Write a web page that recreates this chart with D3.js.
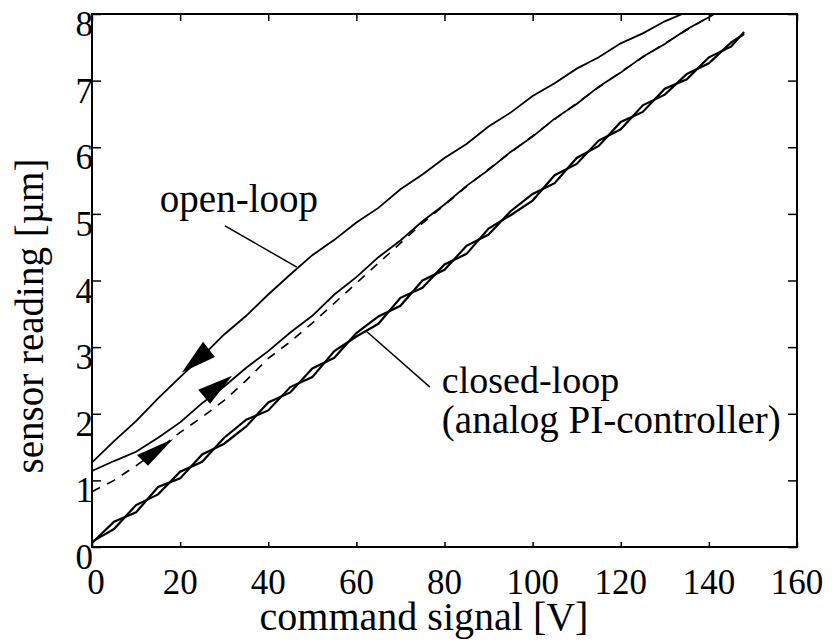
<!DOCTYPE html>
<html>
<head>
<meta charset="utf-8">
<script src="https://cdn.jsdelivr.net/npm/d3@7"></script>
<style>
  html, body { margin: 0; padding: 0; background: #fff; }
</style>
</head>
<body>
<div id="chart"></div>
<script>
// command signal [V] sample points
const voltSteps = [0, 5, 10, 15, 20, 25, 30, 35, 40, 45, 50, 55, 60, 65, 70, 75, 80, 85, 90, 95, 100, 105, 110, 115, 120, 125, 130, 135, 140, 145, 148];

// open-loop, descending branch (upper curve)
const openDown = [1.27, 1.59, 1.89, 2.23, 2.55, 2.86, 3.19, 3.47, 3.79, 4.09, 4.38, 4.61, 4.87, 5.09, 5.37, 5.59, 5.84, 6.05, 6.31, 6.52, 6.77, 6.96, 7.18, 7.35, 7.56, 7.71, 7.89, 8.03, 8.18, 8.32, 8.40];
// open-loop, ascending branch (measured, solid)
const openUp = [1.14, 1.29, 1.43, 1.64, 1.87, 2.16, 2.41, 2.69, 2.94, 3.22, 3.47, 3.79, 4.05, 4.35, 4.60, 4.89, 5.14, 5.42, 5.66, 5.93, 6.16, 6.43, 6.65, 6.91, 7.12, 7.36, 7.55, 7.77, 7.95, 8.16, 8.25];
// open-loop, ascending branch (dashed)
const openUpDashed = [0.83, 1.00, 1.22, 1.46, 1.72, 1.95, 2.20, 2.50, 2.83, 3.08, 3.36, 3.66, 3.96, 4.26, 4.56, 4.86, 5.13, 5.41, 5.67, 5.92, 6.17, 6.42, 6.66, 6.90, 7.13, 7.35, 7.56, 7.76, 7.96, 8.15, 8.25];
// closed-loop (analog PI-controller), two overlapping traces
const closedUp = [0.08, 0.27, 0.63, 0.79, 1.13, 1.28, 1.64, 1.91, 2.05, 2.40, 2.55, 2.94, 3.16, 3.35, 3.74, 3.89, 4.24, 4.40, 4.78, 4.98, 5.20, 5.58, 5.75, 6.10, 6.27, 6.63, 6.79, 7.10, 7.26, 7.57, 7.70];
const closedDown = [0.06, 0.38, 0.52, 0.90, 1.03, 1.39, 1.55, 1.81, 2.17, 2.32, 2.68, 2.84, 3.21, 3.46, 3.62, 4.00, 4.16, 4.52, 4.69, 5.04, 5.30, 5.46, 5.84, 6.02, 6.38, 6.53, 6.88, 7.02, 7.35, 7.51, 7.73];

const xTicks = [0, 20, 40, 60, 80, 100, 120, 140, 160];
const yTicks = [0, 1, 2, 3, 4, 5, 6, 7, 8];

// direction arrows [V, µm] : tip, base corner, base corner
const arrows = [
    [[20.4, 2.62], [25.2, 3.08], [27.9, 2.85]],
    [[31.8, 2.57], [24.1, 2.36], [26.8, 2.15]],
    [[18.4, 1.62], [10.2, 1.38], [12.7, 1.22]]
];

const W = 833, H = 644;
const margin = { top: 14, right: 36, bottom: 97, left: 92 };
const FONT = '"Liberation Serif", "DejaVu Serif", "Times New Roman", Times, serif';

const svg = d3.select('#chart').append('svg')
    .attr('width', W)
    .attr('height', H)
    .attr('font-family', FONT);

const x = d3.scaleLinear().domain([0, 160]).range([margin.left, W - margin.right]);
const y = d3.scaleLinear().domain([0, 8]).range([H - margin.bottom, margin.top]);

svg.append('clipPath').attr('id', 'plot-clip')
    .append('rect')
    .attr('x', x(0)).attr('y', y(8))
    .attr('width', x(160) - x(0)).attr('height', y(0) - y(8));

const plot = svg.append('g').attr('clip-path', 'url(#plot-clip)');

const line = vals => d3.line()
    .x((d, i) => x(voltSteps[i]))
    .y(d => y(d))(vals);

// closed-loop traces
[closedUp, closedDown].forEach(vals => {
    plot.append('path')
        .attr('d', line(vals))
        .attr('fill', 'none')
        .attr('stroke', '#000')
        .attr('stroke-width', 2.2);
});

// open-loop traces
plot.append('path')
    .attr('d', line(openUpDashed))
    .attr('fill', 'none')
    .attr('stroke', '#000')
    .attr('stroke-width', 1.6)
    .attr('stroke-dasharray', '9,8');

[openDown, openUp].forEach(vals => {
    plot.append('path')
        .attr('d', line(vals))
        .attr('fill', 'none')
        .attr('stroke', '#000')
        .attr('stroke-width', 1.8);
});

// arrows
plot.selectAll('.arrow')
    .data(arrows)
    .join('path')
    .attr('class', 'arrow')
    .attr('d', d => 'M' + d.map(p => x(p[0]) + ',' + y(p[1])).join('L') + 'Z')
    .attr('fill', '#000');

// frame with inward ticks on all sides
const axisStyle = (g) => {
    g.select('.domain').remove();
    g.selectAll('.tick line').attr('stroke', '#000').attr('stroke-width', 1.5);
    g.selectAll('.tick text').remove();
};

svg.append('g')
    .attr('transform', `translate(0,${y(0)})`)
    .call(d3.axisBottom(x).tickValues(xTicks).tickSize(-5))
    .call(axisStyle);
svg.append('g')
    .attr('transform', `translate(0,${y(8)})`)
    .call(d3.axisTop(x).tickValues(xTicks).tickSize(-7))
    .call(axisStyle);
svg.append('g')
    .attr('transform', `translate(${x(0)},0)`)
    .call(d3.axisLeft(y).tickValues(yTicks).tickSize(-9))
    .call(axisStyle);
svg.append('g')
    .attr('transform', `translate(${x(160)},0)`)
    .call(d3.axisRight(y).tickValues(yTicks).tickSize(-9))
    .call(axisStyle);

svg.append('rect')
    .attr('x', x(0)).attr('y', y(8))
    .attr('width', x(160) - x(0)).attr('height', y(0) - y(8))
    .attr('fill', 'none')
    .attr('stroke', '#000')
    .attr('stroke-width', 2);

// tick labels
svg.selectAll('.xlab')
    .data(xTicks)
    .join('text')
    .attr('class', 'xlab')
    .attr('x', d => x(d) + (d === 0 ? 4 : 0))
    .attr('y', y(0) + 47)
    .attr('text-anchor', 'middle')
    .attr('font-family', FONT)
    .style('font-size', '35px')
    .text(d => d);

svg.selectAll('.ylab')
    .data(yTicks)
    .join('text')
    .attr('class', 'ylab')
    .attr('x', x(0) + 1)
    .attr('y', d => y(d) + 22)
    .attr('text-anchor', 'end')
    .attr('font-family', FONT)
    .style('font-size', '35px')
    .text(d => d);

// axis titles
svg.append('text')
    .attr('x', 424)
    .attr('y', 630)
    .attr('text-anchor', 'middle')
    .attr('font-family', FONT)
    .style('font-size', '40px')
    .text('command signal [V]');

svg.append('text')
    .attr('transform', `translate(43,316) rotate(-90)`)
    .attr('text-anchor', 'middle')
    .attr('font-family', FONT)
    .style('font-size', '39px')
    .text('sensor reading [µm]');

// annotations
svg.append('line')
    .attr('x1', x(30.2)).attr('y1', y(4.82))
    .attr('x2', x(46.5)).attr('y2', y(4.2))
    .attr('stroke', '#000').attr('stroke-width', 1.5);

svg.append('text')
    .attr('x', x(15.4))
    .attr('y', y(5.03))
    .attr('font-family', FONT)
    .style('font-size', '39px')
    .text('open-loop');

svg.append('line')
    .attr('x1', x(62.4)).attr('y1', y(3.23))
    .attr('x2', x(76.7)).attr('y2', y(2.4))
    .attr('stroke', '#000').attr('stroke-width', 1.5);

svg.append('text')
    .attr('x', x(79.4))
    .attr('y', y(2.31))
    .attr('font-family', FONT)
    .style('font-size', '38px')
    .text('closed-loop');

svg.append('text')
    .attr('x', x(79.4))
    .attr('y', y(1.71))
    .attr('font-family', FONT)
    .style('font-size', '39px')
    .text('(analog PI-controller)');
</script>
</body>
</html>
